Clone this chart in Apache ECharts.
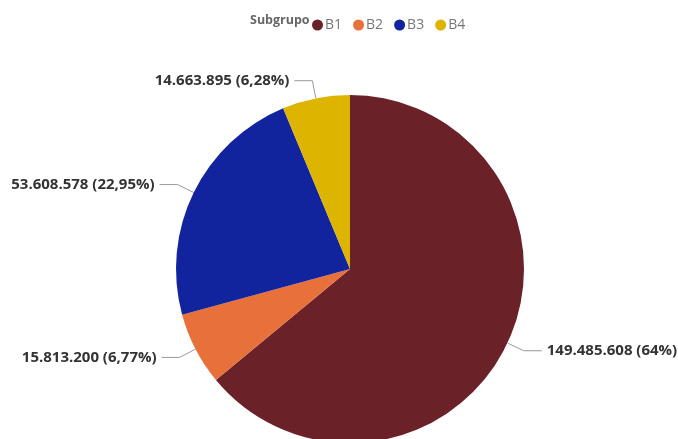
<!DOCTYPE html>
<html>
<head>
<meta charset="utf-8">
<script src="https://cdn.jsdelivr.net/npm/echarts@6/dist/echarts.min.js"></script>
<style>
  html, body { margin: 0; padding: 0; background: #fff; }
  #chart { width: 678px; height: 439px; }
</style>
</head>
<body>
<div id="chart"></div>
<script>
// Subgroup totals
const categories = ['B1', 'B2', 'B3', 'B4'];
const values = [149485608, 15813200, 53608578, 14663895];
const colors = ['#6B2128', '#E8703A', '#12239E', '#DDB400'];

const total = values.reduce((a, b) => a + b, 0);

function fmtThousands(n) {
  return String(n).replace(/\B(?=(\d{3})+(?!\d))/g, '.');
}
function fmtPct(v) {
  const p = Math.round(v / total * 10000) / 100;
  return String(p).replace('.', ',') + '%';
}

const chart = echarts.init(document.getElementById('chart'));
chart.setOption({
  animation: false,
  color: colors,
  graphic: [{
    type: 'text',
    left: 250,
    top: 14,
    style: {
      text: 'Subgrupo',
      font: 'bold 12.5px "Open Sans", sans-serif',
      fill: '#666'
    }
  }],
  legend: {
    left: 307,
    top: 13,
    icon: 'circle',
    itemWidth: 11,
    itemHeight: 11,
    itemGap: 11,
    textStyle: {
      color: '#777',
      fontSize: 14,
      fontFamily: '"Open Sans", sans-serif',
      padding: [0, 0, 0, -3]
    },
    data: categories
  },
  series: [{
    type: 'pie',
    center: [350, 269],
    radius: 174,
    startAngle: 90,
    clockwise: true,
    data: categories.map((c, i) => ({ name: c, value: values[i] })),
    label: {
      show: true,
      overflow: 'none',
      formatter: p => fmtThousands(p.value) + ' (' + fmtPct(p.value) + ')',
      color: '#333',
      fontSize: 15,
      fontWeight: 'bold',
      fontFamily: '"Open Sans", sans-serif'
    },
    labelLine: {
      show: true,
      length: 18,
      length2: 18,
      lineStyle: { color: '#999', width: 1 }
    },
    itemStyle: { borderWidth: 0 }
  }]
});
</script>
</body>
</html>
